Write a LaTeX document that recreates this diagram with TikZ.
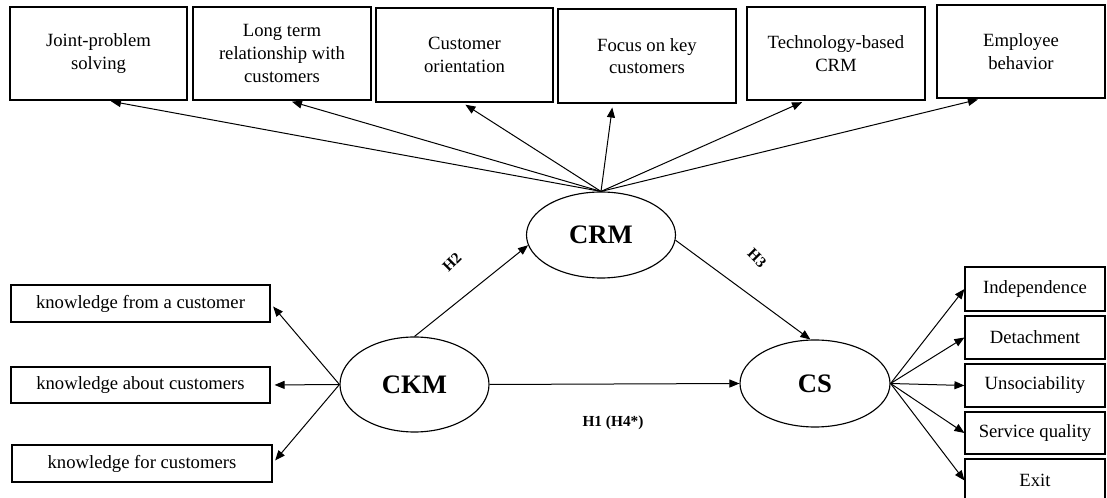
\documentclass[tikz,border=0pt]{standalone}
\usepackage{fontspec}
\setmainfont{Liberation Serif}
\usetikzlibrary{arrows.meta,calc,shapes.geometric}
\begin{document}
\begin{tikzpicture}[x=0.75pt,y=-0.75pt,
  boxbase/.style={draw, line width=0.85pt, inner sep=0pt, align=center, font=\fontsize{14}{17}\selectfont},
  oval/.style={draw, ellipse, line width=0.85pt, inner sep=0pt, font=\fontsize{20}{24}\selectfont\bfseries},
  arr/.style={line width=0.75pt, -{Triangle[length=7.5pt,width=6pt]}},
  hlab/.style={font=\fontsize{11.5}{14}\selectfont\bfseries, inner sep=0pt}]
\useasboundingbox (0,0) rectangle (1107,498);

% top boxes
\node[boxbase, minimum width={177*0.75pt}, minimum height={93*0.75pt}] (j) at (98.5,53.5) {Joint-problem\\solving};
\node[boxbase, minimum width={178*0.75pt}, minimum height={93*0.75pt}] (lt) at (282,53.5) {Long term\\relationship with\\customers};
\node[boxbase, minimum width={177*0.75pt}, minimum height={94*0.75pt}] (co) at (464.5,55) {Customer\\orientation};
\node[boxbase, minimum width={178*0.75pt}, minimum height={94*0.75pt}] (fk) at (647,56) {Focus on key\\customers};
\node[boxbase, minimum width={178*0.75pt}, minimum height={93*0.75pt}] (tb) at (836,53.5) {Technology-based\\CRM};
\node[boxbase, minimum width={168*0.75pt}, minimum height={93*0.75pt}] (eb) at (1021,51.5) {Employee\\behavior};

% left boxes
\node[boxbase, minimum width={259*0.75pt}, minimum height={37*0.75pt}] (k1) at (140.5,303.5) {knowledge from a customer};
\node[boxbase, minimum width={259*0.75pt}, minimum height={36*0.75pt}] (k2) at (140.5,385) {knowledge about customers};
\node[boxbase, minimum width={260*0.75pt}, minimum height={37*0.75pt}] (k3) at (142,463.5) {knowledge for customers};

% right boxes
\node[boxbase, minimum width={140*0.75pt}, minimum height={44*0.75pt}] (r1) at (1035,289) {Independence};
\node[boxbase, minimum width={140*0.75pt}, minimum height={43*0.75pt}] (r2) at (1035,337.5) {Detachment};
\node[boxbase, minimum width={140*0.75pt}, minimum height={43*0.75pt}] (r3) at (1035,385.5) {Unsociability};
\node[boxbase, minimum width={140*0.75pt}, minimum height={42*0.75pt}] (r4) at (1035,433) {Service quality};
\node[boxbase, minimum width={140*0.75pt}, minimum height={43*0.75pt}] (r5) at (1035,480.5) {Exit};

% ellipses
\node[oval, minimum width={149*0.75pt}, minimum height={86*0.75pt}] (crm) at (601,235) {CRM};
\node[oval, minimum width={149*0.75pt}, minimum height={95*0.75pt}] (ckm) at (414.5,384.5) {CKM};
\node[oval, minimum width={150*0.75pt}, minimum height={87*0.75pt}] (cs) at (815,383.5) {CS};

% CRM indicators
\draw[arr, shorten >=3pt] (crm.north) -- ($(j.south west)!0.548!(j.south east)$);
\draw[arr, shorten >=3pt] (crm.north) -- ($(lt.south west)!0.534!(lt.south east)$);
\draw[arr, shorten >=3pt] (crm.north) -- ($(co.south west)!0.486!(co.south east)$);
\draw[arr, shorten >=3pt] (crm.north) -- ($(fk.south west)!0.309!(fk.south east)$);
\draw[arr, shorten >=3pt] (crm.north) -- ($(tb.south west)!0.331!(tb.south east)$);
\draw[arr, shorten >=3pt] (crm.north) -- ($(eb.south west)!0.268!(eb.south east)$);

% CKM indicators
\draw[arr, shorten >=3pt] (ckm.west) -- (k1.east);
\draw[arr, shorten >=3pt] (ckm.west) -- (k2.east);
\draw[arr, shorten >=3pt] (ckm.west) -- (k3.east);

% CS indicators
\draw[arr] (cs.east) -- (r1.west);
\draw[arr] (cs.east) -- (r2.west);
\draw[arr] (cs.east) -- (r3.west);
\draw[arr] (cs.east) -- (r4.west);
\draw[arr] (cs.east) -- (r5.west);

% structural paths
\draw[arr] (ckm.north) -- (crm.188);
\draw[arr] (crm.-4) -- (cs.96);
\draw[arr] (ckm.east) -- (cs.west);

\node[hlab, rotate=45] (h2) at (452,262) {H2};
\node[hlab, rotate=-45] (h3) at (757,258) {H3};
\node[hlab] (h1) at (613,423) {H1 (H4*)};
\end{tikzpicture}
\end{document}
